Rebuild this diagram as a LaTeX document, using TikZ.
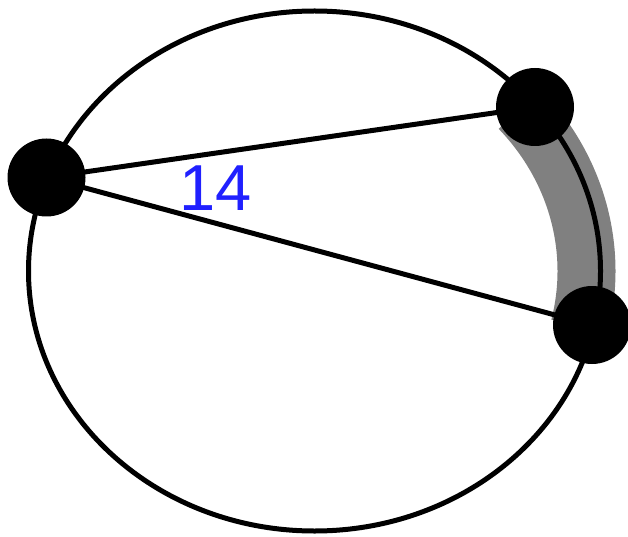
\documentclass[tikz,border=0pt]{standalone}
\usepackage{fontspec}
\setmainfont{Liberation Sans}
\begin{document}
\begin{tikzpicture}[x=1pt,y=1pt,
  dot/.style={circle,fill=black,inner sep=0pt,minimum size=78pt},
  chord/.style={line width=5pt,black},
  band/.style={line width=58pt,color={rgb,255:red,128;green,128;blue,128}},
  lbl/.style={text={rgb,255:red,32;green,32;blue,255},font=\fontsize{65}{65}\selectfont,inner sep=0pt}]
\useasboundingbox (0,0) rectangle (628,536);
\coordinate (o) at (314.5,265);
\draw[band] ([shift={(41:272pt and 247pt)}]o) arc[start angle=41,end angle=-13,x radius=272pt,y radius=247pt];
\draw[chord] (o) ellipse[x radius=286pt,y radius=260pt];
\node[dot] (a) at (46.5,358.5) {};
\node[dot] (b) at (535,429) {};
\node[dot] (c) at (592,211) {};
\draw[chord] (a.center) -- (b.center);
\draw[chord] (a.center) -- (c.center);
\node[lbl] (t) at (215.5,347.5) {14};
\end{tikzpicture}
\end{document}
